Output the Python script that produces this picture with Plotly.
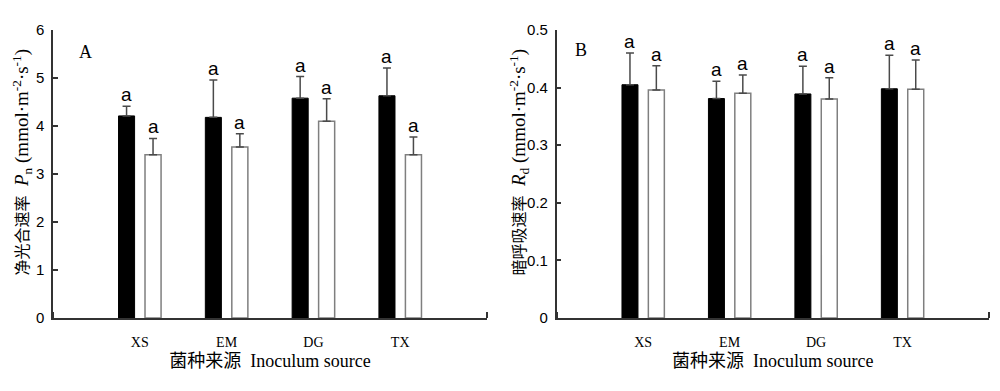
import plotly.graph_objects as go

categories = ["XS", "EM", "DG", "TX"]

pn_black = [4.21, 4.18, 4.58, 4.63]
pn_black_err = [0.20, 0.78, 0.45, 0.58]
pn_white = [3.40, 3.56, 4.10, 3.40]
pn_white_err = [0.34, 0.28, 0.47, 0.37]

rd_black = [0.405, 0.381, 0.389, 0.398]
rd_black_err = [0.055, 0.030, 0.048, 0.058]
rd_white = [0.396, 0.390, 0.380, 0.397]
rd_white_err = [0.042, 0.032, 0.037, 0.051]

pn_black_sig = ["a", "a", "a", "a"]
pn_white_sig = ["a", "a", "a", "a"]
rd_black_sig = ["a", "a", "a", "a"]
rd_white_sig = ["a", "a", "a", "a"]

pos = list(range(1, len(categories) + 1))

# page body has an 8px margin, so the figure is 16px smaller than the window
W, H = 984, 375
BW = 0.185
OFF_BLACK = -0.245
OFF_WHITE = 0.06
ERR_COLOR = "#4a4a4a"
SERIF = "Liberation Serif, Times New Roman, Noto Sans CJK SC, serif"
SANS = "Liberation Sans, Arial, sans-serif"

fig = go.Figure()


def add_panel(xref, yref, black, black_err, white, white_err, bsig, wsig):
    fig.add_trace(go.Bar(
        x=pos, y=black, width=BW, offset=OFF_BLACK,
        marker=dict(color="black", line=dict(color="black", width=1)),
        error_y=dict(type="data", array=black_err, arrayminus=[0] * len(black),
                     symmetric=False, color=ERR_COLOR, thickness=1.5, width=4),
        xaxis=xref, yaxis=yref, showlegend=False))
    fig.add_trace(go.Bar(
        x=pos, y=white, width=BW, offset=OFF_WHITE,
        marker=dict(color="white", line=dict(color="#7f7f7f", width=1.5)),
        error_y=dict(type="data", array=white_err, arrayminus=[0] * len(white),
                     symmetric=False, color=ERR_COLOR, thickness=1.5, width=4),
        xaxis=xref, yaxis=yref, showlegend=False))
    for i, p in enumerate(pos):
        for val, err, sig, off in ((black[i], black_err[i], bsig[i], OFF_BLACK),
                                   (white[i], white_err[i], wsig[i], OFF_WHITE)):
            fig.add_annotation(x=p + off + BW / 2, y=val + err, text=sig,
                               xref=xref, yref=yref, showarrow=False,
                               yanchor="bottom", yshift=-1,
                               font=dict(family=SANS, size=19, color="black"))


add_panel("x", "y", pn_black, pn_black_err, pn_white, pn_white_err,
          pn_black_sig, pn_white_sig)
add_panel("x2", "y2", rd_black, rd_black_err, rd_white, rd_white_err,
          rd_black_sig, rd_white_sig)

ydom = [(H - 310) / H, (H - 22) / H]

xaxis_common = dict(
    range=[0, 5], tickvals=pos, ticktext=categories, ticks="",
    showline=True, linecolor="#333333", linewidth=1.5, showgrid=False,
    zeroline=False, ticklabelstandoff=10, automargin=False,
    tickfont=dict(family=SERIF, size=14, color="black"),
    minor=dict(tickvals=[0, 5], ticks="inside", ticklen=6,
               tickcolor="#333333", tickwidth=1.5, showgrid=False),
    title=dict(text="菌种来源  Inoculum source",
               font=dict(family=SERIF, size=18, color="black"), standoff=6),
    fixedrange=True,
)
yaxis_common = dict(
    showline=True, linecolor="#333333", linewidth=1.5, showgrid=False,
    zeroline=False, ticks="inside", ticklen=5, tickcolor="#333333", tickwidth=1.5,
    tickfont=dict(family=SANS, size=15, color="black"),
    ticklabelstandoff=4, automargin=False,
)

fig.update_layout(
    width=W, height=H,
    margin=dict(l=0, r=0, t=0, b=0, autoexpand=False),
    plot_bgcolor="white", paper_bgcolor="white",
    barmode="overlay",
    xaxis=dict(domain=[45 / W, 479 / W], anchor="y", **xaxis_common),
    yaxis=dict(domain=ydom, anchor="x", range=[0, 6], dtick=1, **yaxis_common),
    xaxis2=dict(domain=[548.7 / W, 981 / W], anchor="y2", **xaxis_common),
    yaxis2=dict(domain=ydom, anchor="x2", range=[0, 0.5], dtick=0.1,
                tickformat=".1~f", **yaxis_common),
)

CJK = '<span style="font-size:16px">{}</span>'
ytitle_a = CJK.format("净光合速率") + "  <i>P</i><sub>n</sub> (mmol·m<sup>-2</sup>·s<sup>-1</sup>)"
ytitle_b = CJK.format("暗呼吸速率") + "  <i>R</i><sub>d</sub> (mmol·m<sup>-2</sup>·s<sup>-1</sup>)"
for xc, txt in ((14, ytitle_a), (511, ytitle_b)):
    fig.add_annotation(x=xc / W, y=1 - 154.5 / H, xref="paper", yref="paper",
                       text=txt, textangle=-90, showarrow=False,
                       xanchor="center", yanchor="middle",
                       font=dict(family=SERIF, size=19, color="black"))

fig.add_annotation(x=69 / W, y=1 - 32 / H, xref="paper", yref="paper", text="A",
                   showarrow=False, font=dict(family=SERIF, size=18, color="black"))
fig.add_annotation(x=573 / W, y=1 - 30 / H, xref="paper", yref="paper", text="B",
                   showarrow=False, font=dict(family=SERIF, size=18, color="black"))

fig.write_html("out.html")
